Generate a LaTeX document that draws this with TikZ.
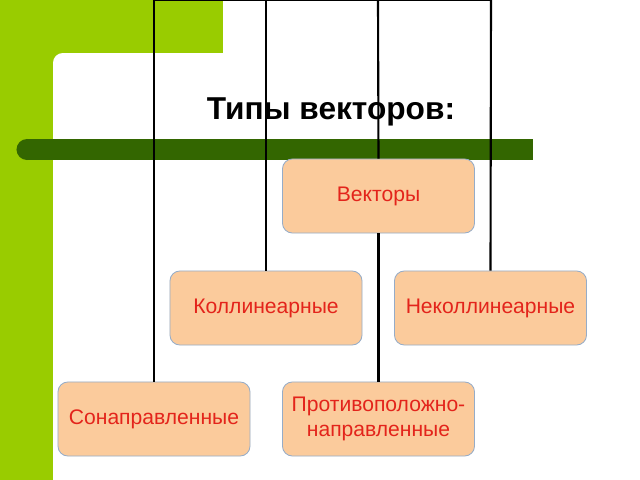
\documentclass[tikz,border=0pt]{standalone}
\usepackage{fontspec}
\setmainfont{Liberation Sans}
\usepackage{tikz}
\usetikzlibrary{calc}

\definecolor{lightgreen}{HTML}{99CC00}
\definecolor{darkgreen}{HTML}{336600}
\definecolor{peach}{HTML}{FBCB9C}
\definecolor{boxline}{HTML}{95ACC8}
\definecolor{textred}{HTML}{E3241B}

\tikzset{
  typebox/.style={draw=boxline, line width=0.6pt, fill=peach,
    rounded corners=7pt, minimum width=4.8cm, minimum height=1.85cm,
    align=center, text=textred, font=\fontsize{15}{18}\selectfont},
  link/.style={draw=black, line width=1.5pt}
}

\begin{document}
\begin{tikzpicture}[x=0.025cm,y=-0.025cm]
% frame of the slide, 640 x 480
\path[use as bounding box, clip] (0,0) rectangle (640,480);
\fill[white] (0,0) rectangle (640,480);

% green corner
\fill[lightgreen] (0,0) rectangle (223,70);
\fill[lightgreen] (0,0) rectangle (70,480);
\fill[white, rounded corners=7pt] (53,53) rectangle (680,520);

% dark green bar
\fill[darkgreen] (27,139) rectangle (533,160);
\fill[darkgreen] (27,149.5) circle (0.2625cm);

% title
\node[font=\bfseries\fontsize{22.5}{26}\selectfont] (title) at (331,112)
  {Типы векторов:};

% ends of the connectors at the top
\coordinate (t1) at (154,0);
\coordinate (t2) at (266,0);
\coordinate (t3) at (378,0);
\coordinate (t4) at (491,0);

% boxes
\node[typebox] (vec) at (378.5,196) {Векторы};
\node[typebox] (kol) at (266,308) {Коллинеарные};
\node[typebox] (nekol) at (490.5,308) {Неколлинеарные};
\node[typebox] (son) at (154,419) {Сонаправленные};
\node[typebox] (prot) at (378.5,419) {Противоположно-\\направленные};

% connectors
\draw[link] (t1) -- (t4);
\draw[link] (t1) -- (son.north);
\draw[link] (t2) -- (kol.north);
\draw[link] (t3) -- (vec.north);
\draw[link] (t4) -- (nekol.north);
\draw[link] (vec.south) -- (prot.north);
\end{tikzpicture}
\end{document}
